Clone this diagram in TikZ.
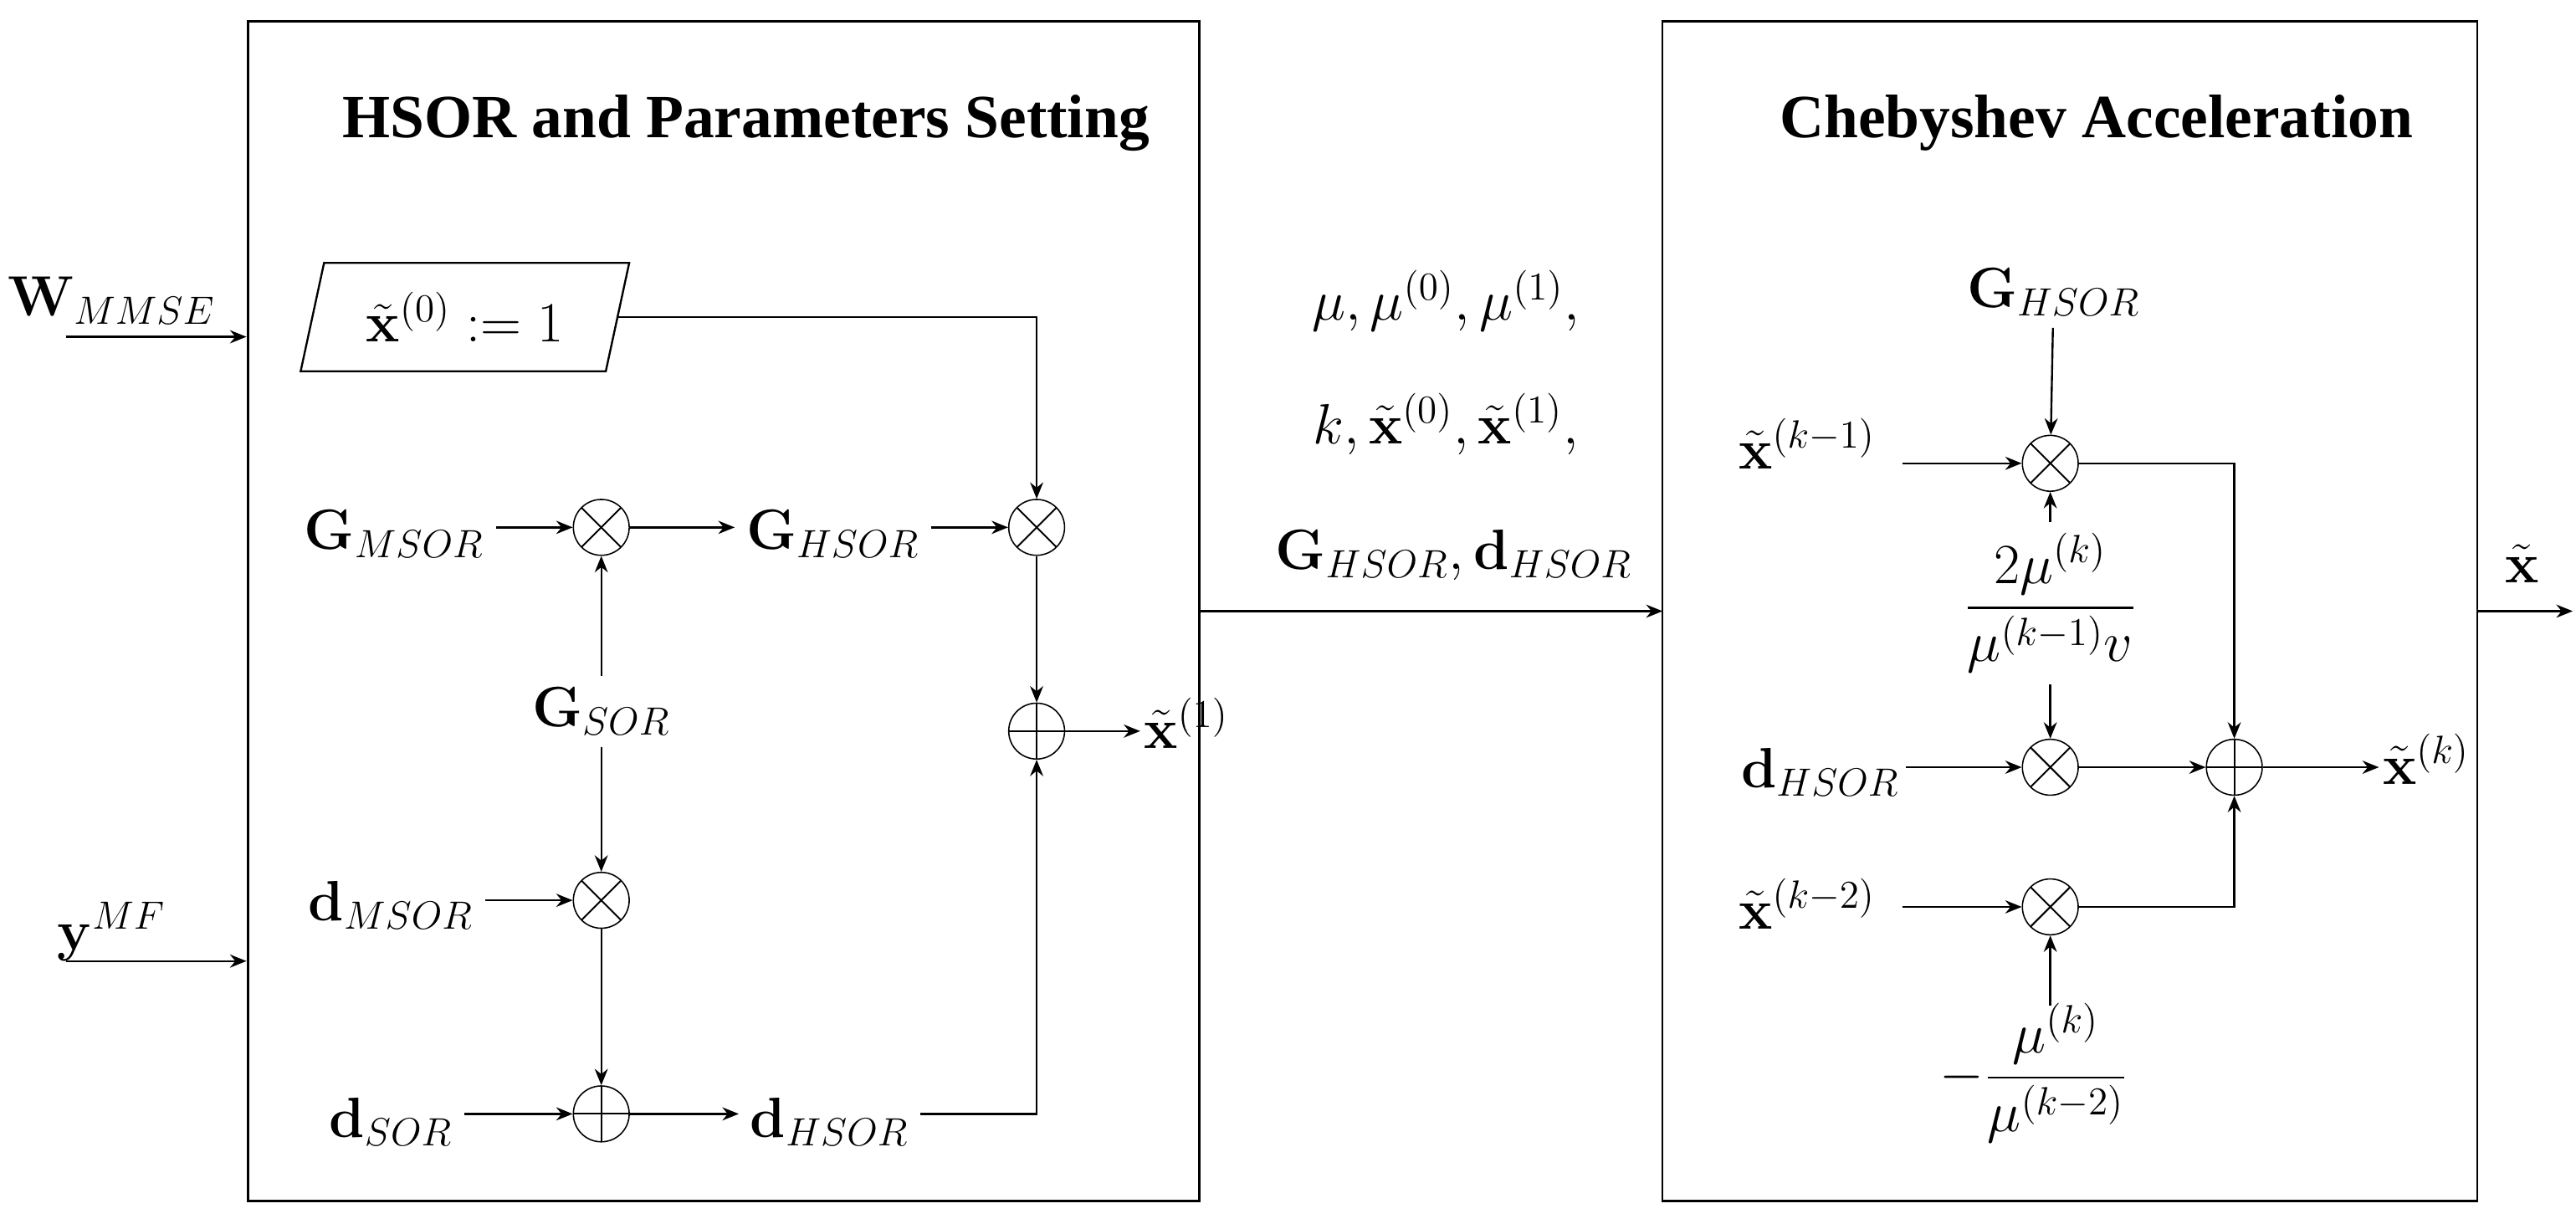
\documentclass[tikz,border=0pt]{standalone}
\usepackage{amsmath}
\usepackage[no-math]{fontspec}
\newfontfamily\ttlfont{Liberation Serif}
\usetikzlibrary{arrows.meta,shapes.geometric}
\begin{document}
\begin{tikzpicture}[x=0.5pt,y=-0.5pt,
  every node/.style={font=\fontsize{17.5}{20}\selectfont},
  box/.style={draw,line width=0.6pt},
  op/.style={circle,minimum size=17pt,inner sep=0pt},
  mul/.style={op,draw,path picture={\draw[line width=0.5pt] (path picture bounding box.north west)--(path picture bounding box.south east) (path picture bounding box.north east)--(path picture bounding box.south west);}},
  add/.style={op,draw,path picture={\draw[line width=0.5pt] (path picture bounding box.north)--(path picture bounding box.south) (path picture bounding box.east)--(path picture bounding box.west);}},
  arr/.style={-{Stealth[length=5pt,width=4pt]},line width=0.6pt},
  ttl/.style={font=\ttlfont\fontsize{18.7}{21}\selectfont\bfseries}]
\useasboundingbox (0,0) rectangle (1568,745);
\draw[box] (151,13) rectangle (730,731);
\draw[box] (1012,13) rectangle (1508,731);
\node[ttl] (t1) at (454,75) {HSOR and Parameters Setting};
\node[ttl] (t2) at (1276,75) {Chebyshev Acceleration};
% inputs
\coordinate (w0) at (40,205); \coordinate (w1) at (150,205);
\node (W) at (68,183) {$\mathbf{W}_{MMSE}$};
\draw[arr] (w0) -- (w1);
\coordinate (y0) at (40,585); \coordinate (y1) at (150,585);
\node (Y) at (68,567) {$\mathbf{y}^{MF}$};
\draw[arr] (y0) -- (y1);
% box 1
\node[draw,trapezium,trapezium left angle=72,trapezium right angle=108,trapezium stretches body,minimum width=100pt,minimum height=33pt,inner xsep=0pt,line width=0.6pt] (x0) at (283,193) {$\tilde{\mathbf{x}}^{(0)} := 1$};
\node[mul] (m1) at (366,321) {};
\node[mul] (m2) at (631,321) {};
\node[add] (a1) at (631,445) {};
\node[mul] (m3) at (366,548) {};
\node[add] (a2) at (366,678) {};
\node (Gm) at (240,325) {$\mathbf{G}_{MSOR}$};
\node (Gh) at (507,325) {$\mathbf{G}_{HSOR}$};
\node (Gs) at (366,433) {$\mathbf{G}_{SOR}$};
\node (dm) at (238,551) {$\mathbf{d}_{MSOR}$};
\node (ds) at (238,683) {$\mathbf{d}_{SOR}$};
\node (dh) at (505,683) {$\mathbf{d}_{HSOR}$};
\node[anchor=west,inner sep=1pt] (x1) at (694,440) {$\tilde{\mathbf{x}}^{(1)}$};
\draw[arr] (x0.east|-x0) -| (m2);
\draw[arr] (Gm.east|-m1) -- (m1);
\draw[arr] (m1) -- (Gh.west|-m1);
\draw[arr] (Gh.east|-m2) -- (m2);
\draw[arr] (m2) -- (a1);
\draw[arr] (a1) -- (x1.west|-a1);
\draw[arr] (Gs) -- (m1);
\draw[arr] (Gs) -- (m3);
\draw[arr] (dm.east|-m3) -- (m3);
\draw[arr] (m3) -- (a2);
\draw[arr] (ds.east|-a2) -- (a2);
\draw[arr] (a2) -- (dh.west|-a2);
\draw[arr] (dh.east|-a2) -| (a1);
% middle
\node (p1) at (880,183) {$\mu, \mu^{(0)}, \mu^{(1)},$};
\node (p2) at (880,258) {$k, \tilde{\mathbf{x}}^{(0)}, \tilde{\mathbf{x}}^{(1)},$};
\node (p3) at (885,338) {$\mathbf{G}_{HSOR}, \mathbf{d}_{HSOR}$};
\coordinate (c0) at (730,372); \coordinate (c1) at (1012,372);
\draw[arr] (c0) -- (c1);
% box 2
\node[mul] (n1) at (1248,282) {};
\node[mul] (n2) at (1248,467) {};
\node[mul] (n3) at (1248,552) {};
\node[add] (b1) at (1360,467) {};
\node (G2) at (1250,178) {$\mathbf{G}_{HSOR}$};
\node (xk1) at (1100,270) {$\tilde{\mathbf{x}}^{(k-1)}$};
\node (fr) at (1248,367) {$\dfrac{2\mu^{(k)}}{\mu^{(k-1)}v}$};
\node (d2) at (1108,470) {$\mathbf{d}_{HSOR}$};
\node (xk2) at (1100,550) {$\tilde{\mathbf{x}}^{(k-2)}$};
\node (fr2) at (1238,653) {$-\dfrac{\mu^{(k)}}{\mu^{(k-2)}}$};
\node[anchor=west,inner sep=1pt] (xk) at (1448,462) {$\tilde{\mathbf{x}}^{(k)}$};
\draw[arr] (G2) -- (n1);
\draw[arr] (1158,282) -- (n1);
\draw[arr] (fr.north-|n1) -- (n1);
\draw[arr] (fr.south-|n2) -- (n2);
\draw[arr] (1160,467) -- (n2);
\draw[arr] (n2) -- (b1);
\draw[arr] (n1) -| (b1);
\draw[arr] (1158,552) -- (n3);
\draw[arr] (1248,612) -- (n3);
\draw[arr] (n3) -| (b1);
\draw[arr] (b1) -- (xk.west|-b1);
\node (xo) at (1535,343) {$\tilde{\mathbf{x}}$};
\coordinate (o0) at (1508,372); \coordinate (o1) at (1566,372);
\draw[arr] (o0) -- (o1);
\end{tikzpicture}
\end{document}
